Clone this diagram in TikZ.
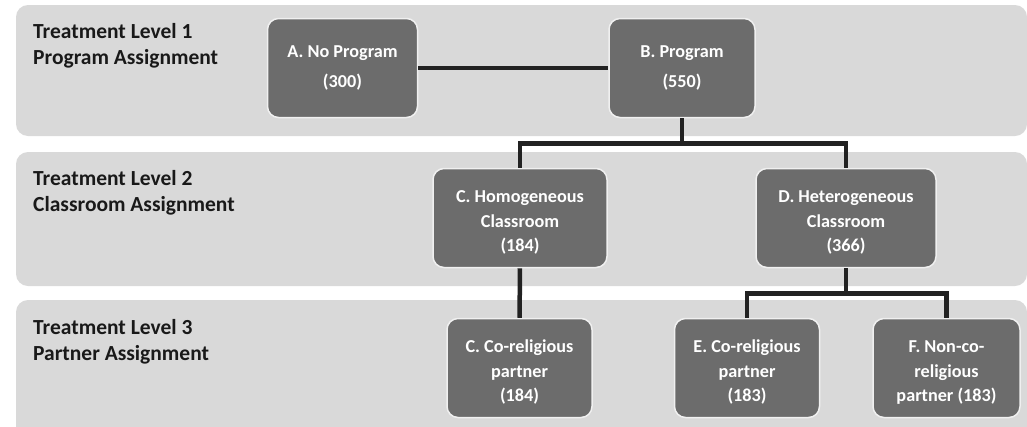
\documentclass[tikz,border=0pt]{standalone}
\usepackage{fontspec}
\setmainfont{Carlito}
\definecolor{bandgray}{HTML}{D9D9D9}
\definecolor{boxgray}{HTML}{6C6C6C}
\definecolor{linkgray}{HTML}{222222}
\newcommand{\toplift}{\rule{0pt}{21.5pt}}
\tikzset{
	band/.style={fill=bandgray, rounded corners=12pt},
	box/.style={draw=white!94!black, line width=1.5pt, fill=boxgray, rounded corners=11pt,
		text=white, align=center, inner sep=0pt, font=\fontsize{18.2}{24.5}\selectfont\bfseries},
	level/.style={anchor=north west, align=left, inner sep=0pt, text=black!90,
		font=\fontsize{21.5}{25.5}\selectfont\bfseries},
	link/.style={draw=linkgray, line width=4.5pt},
}

\begin{document}
\begin{tikzpicture}[x=1pt, y=-1pt]
		%%%%% START %%%%%
		\useasboundingbox (0, 0) rectangle (1027, 426);
		\clip (0, 0) rectangle (1027, 426);
		
		\fill[band] (16, 5) rectangle (1027, 136);
		\fill[band] (16, 152) rectangle (1027, 286);
		\fill[band] (16, 300) rectangle (1027, 440);
		
		\node[level] (lvl1) at (33, 23.5) {Treatment Level 1\\Program Assignment};
		\node[level] (lvl2) at (33, 170.5) {Treatment Level 2\\Classroom Assignment};
		\node[level] (lvl3) at (33, 319.5) {Treatment Level 3\\Partner Assignment};
		
		\node[box, minimum width=150pt, minimum height=99pt] (a) at (342.5, 68) {A. No Program\\[6pt](300)};
		\node[box, minimum width=146pt, minimum height=99pt] (b) at (682, 68) {B. Program\\[6pt](550)};
		
		\node[box, minimum width=174pt, minimum height=99pt] (c) at (520, 218) {\toplift C. Homogeneous\\Classroom\\(184)};
		\node[box, minimum width=180pt, minimum height=99pt] (d) at (846, 218) {\toplift D. Heterogeneous\\Classroom\\(366)};
		
		\node[box, minimum width=145pt, minimum height=99pt] (cc) at (519.5, 368) {\toplift C. Co-religious\\partner\\(184)};
		\node[box, minimum width=145pt, minimum height=99pt] (e) at (747, 368) {\toplift E. Co-religious\\partner\\(183)};
		\node[box, minimum width=147pt, minimum height=99pt] (f) at (946.5, 368) {\toplift F. Non-co-\\religious\\partner (183)};
		
		\draw[link] (a) -- (b);
		\draw[link] (b.south) -- ++(0, 25) -| (c.north);
		\draw[link] (b.south) -- ++(0, 25) -| (d.north);
		\draw[link] (c) -- (cc);
		\draw[link] (d.south) -- ++(0, 25) -| (e.north);
		\draw[link] (d.south) -- ++(0, 25) -| (f.north);
		
		%%%%% END %%%%%
\end{tikzpicture}
\end{document}
